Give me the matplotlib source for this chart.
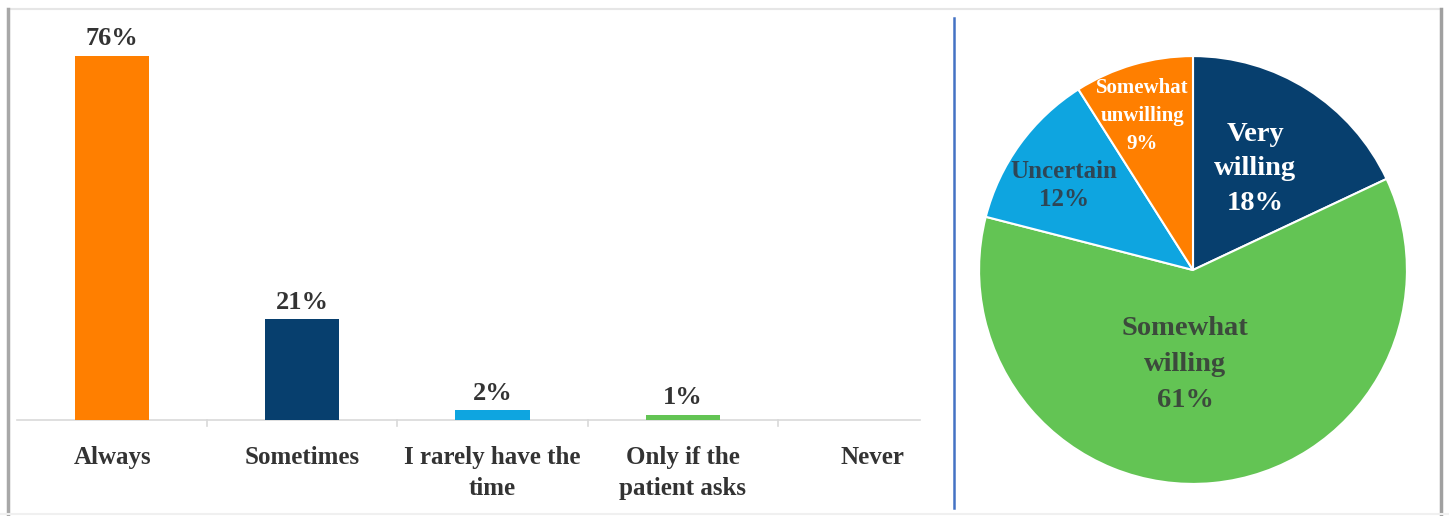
import matplotlib
matplotlib.use("Agg")
import matplotlib.pyplot as plt
from matplotlib.lines import Line2D

# ---------------- data ----------------
bar_categories = ["Always", "Sometimes", "I rarely have the\ntime",
                  "Only if the\npatient asks", "Never"]
bar_values = [76, 21, 2, 1, 0]
bar_labels = ["76%", "21%", "2%", "1%", ""]
bar_colors = ["#FF7F00", "#073F6E", "#0EA5E0", "#63C454", "#63C454"]

pie_categories = ["Very\nwilling", "Somewhat\nwilling", "Uncertain", "Somewhat\nunwilling"]
pie_values = [18, 61, 12, 9]
pie_colors = ["#073F6E", "#63C454", "#0EA5E0", "#FF7F00"]

# ---------------- layout / style ----------------
W, H = 1449, 516
DPI = 100
FONT = ["Liberation Serif", "DejaVu Serif"]
TXT = "#333333"

fig = plt.figure(figsize=(W / DPI, H / DPI), dpi=DPI)
fig.patch.set_facecolor("white")

def fx(px):
    return px / W

def fy(py):
    return 1 - py / H

# ---------- bar chart ----------
left_px, right_px = 17, 968
base_px = 420
ymax = 80
px_per_unit = (base_px - 56) / 76
top_px = base_px - ymax * px_per_unit
ax = fig.add_axes([fx(left_px), fy(base_px), fx(right_px - left_px),
                   (base_px - top_px) / H])
x = list(range(len(bar_categories)))
ax.bar(x, bar_values, width=0.39, color=bar_colors, zorder=2)
ax.set_xlim(-0.5, len(bar_categories) - 0.5)
ax.set_ylim(0, ymax)
for s in ax.spines.values():
    s.set_visible(False)
ax.set_yticks([])
ax.set_xticks(x)
ax.set_xticklabels(bar_categories, fontfamily=FONT, fontweight="bold",
                   fontsize=18, color=TXT, linespacing=1.45)
ax.tick_params(axis="x", length=0, pad=19)
# baseline and separators
ax.plot([-0.5, 4.25], [0, 0], color="#D9D9D9", lw=1.2, clip_on=False, zorder=1)
for b in [0.5, 1.5, 2.5, 3.5]:
    ax.plot([b, b], [0, -1.3], color="#D9D9D9", lw=1.2, clip_on=False)
for xi, v, lab in zip(x, bar_values, bar_labels):
    if lab:
        ax.text(xi, v + 1.2, lab, ha="center", va="bottom", fontfamily=FONT,
                fontweight="bold", fontsize=19, color=TXT)

# ---------- pie chart ----------
cx, cy, r = 1193, 270, 215
pax = fig.add_axes([fx(cx - r), fy(cy + r), fx(2 * r), 2 * r / H])
pax.pie(pie_values, colors=pie_colors, startangle=90, counterclock=False,
        radius=1, wedgeprops=dict(edgecolor="white", linewidth=1.5))
pax.set_xlim(-1.005, 1.005)
pax.set_ylim(-1.005, 1.005)
pax.set_aspect("equal")
pax.axis("off")

label_pos = [(0.29, 0.474), (-0.037, -0.44), (-0.605, 0.395), (-0.237, 0.72)]
label_col = ["white", "#3C4A3C", "#2E4656", "white"]
label_size = [20.5, 20.5, 18, 15]
label_ls = [1.5, 1.58, 1.33, 1.55]
for name, v, (px_, py_), c, fs, ls in zip(pie_categories, pie_values, label_pos,
                                           label_col, label_size, label_ls):
    pax.text(px_, py_, f"{name}\n{v}%", ha="center", va="center",
             fontfamily=FONT, fontweight="bold", fontsize=fs, color=c,
             linespacing=ls)

# ---------- frame decorations ----------
fig.add_artist(Line2D([fx(9), fx(1441)], [fy(9), fy(9)], color="#E6E6E6", lw=1.5))
fig.add_artist(Line2D([fx(8), fx(8)], [fy(9), fy(516)], color="#A8A8A8", lw=2.5))
fig.add_artist(Line2D([fx(1441), fx(1441)], [fy(9), fy(516)], color="#A0A0A0", lw=2.5))
fig.add_artist(Line2D([fx(0), fx(1449)], [fy(514), fy(514)], color="#F0F0F0", lw=1.5))
fig.add_artist(Line2D([fx(953.5), fx(953.5)], [fy(18), fy(508)], color="#4472C4", lw=1.8))

fig.savefig("out.png", dpi=DPI, facecolor="white")
